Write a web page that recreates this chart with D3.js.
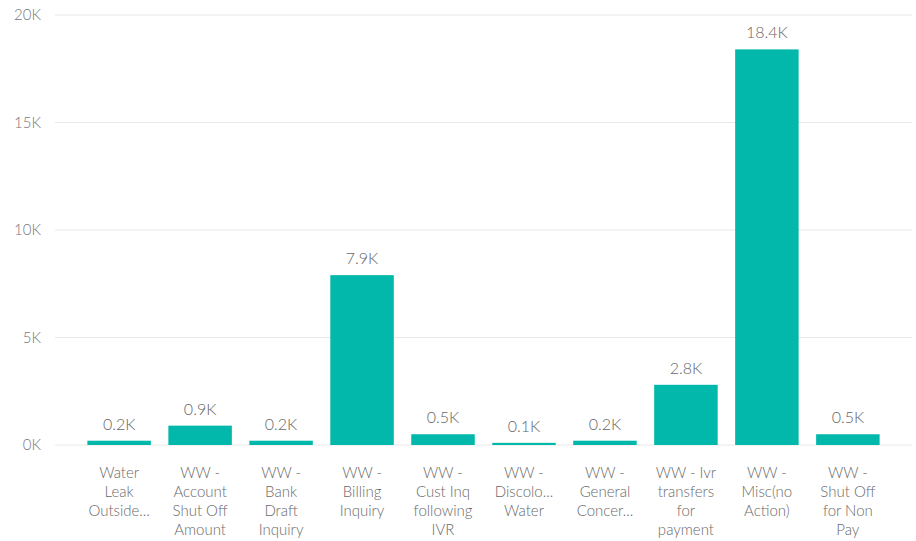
<!DOCTYPE html>
<html>
<head>
<meta charset="utf-8">
<script src="https://cdn.jsdelivr.net/npm/d3@7"></script>
<style>
  html, body { margin: 0; padding: 0; background: #ffffff; }
  svg { display: block; font-family: "Segoe UI", "Lato", "Noto Sans", sans-serif; font-weight: 300; }
</style>
</head>
<body>
<svg id="chart" width="916" height="541"></svg>
<script>
// Call counts per request type (thousands)
const categories = [
  "Water Leak Outside...",
  "WW - Account Shut Off Amount",
  "WW - Bank Draft Inquiry",
  "WW - Billing Inquiry",
  "WW - Cust Inq following IVR",
  "WW - Discolo... Water",
  "WW - General Concer...",
  "WW - Ivr transfers for payment",
  "WW - Misc(no Action)",
  "WW - Shut Off for Non Pay"
];
// Wrapped axis label lines for each category
const categoryLines = [
  ["Water", "Leak", "Outside..."],
  ["WW -", "Account", "Shut Off", "Amount"],
  ["WW -", "Bank", "Draft", "Inquiry"],
  ["WW -", "Billing", "Inquiry"],
  ["WW -", "Cust Inq", "following", "IVR"],
  ["WW -", "Discolo...", "Water"],
  ["WW -", "General", "Concer..."],
  ["WW - Ivr", "transfers", "for", "payment"],
  ["WW -", "Misc(no", "Action)"],
  ["WW -", "Shut Off", "for Non", "Pay"]
];
const values = [0.2, 0.9, 0.2, 7.9, 0.5, 0.1, 0.2, 2.8, 18.4, 0.5];
const yTicks = [0, 5, 10, 15, 20];
const yTickLabels = ["0K", "5K", "10K", "15K", "20K"];

const svg = d3.select("#chart");

const x = d3.scaleBand()
  .domain(categories)
  .range([55, 912])
  .paddingInner(0.216)
  .paddingOuter(0.4);

const y = d3.scaleLinear()
  .domain([0, 20])
  .range([445, 15]);

// Horizontal gridlines
svg.append("g")
  .selectAll("line")
  .data(yTicks)
  .join("line")
  .attr("x1", 55)
  .attr("x2", 912)
  .attr("y1", d => y(d))
  .attr("y2", d => y(d))
  .attr("stroke", "#e8e8e8")
  .attr("stroke-width", 1);

// Y axis labels
const yAxis = d3.axisLeft(y)
  .tickValues(yTicks)
  .tickFormat((d, i) => yTickLabels[i])
  .tickSize(0)
  .tickPadding(0);
const yg = svg.append("g")
  .attr("transform", "translate(41,0)")
  .call(yAxis)
  .attr("font-family", null)
  .attr("font-size", null);
yg.select(".domain").remove();
yg.selectAll("text")
  .attr("fill", "#777777")
  .style("font-size", "15px");

// Bars
svg.append("g")
  .selectAll("rect")
  .data(values)
  .join("rect")
  .attr("x", (d, i) => x(categories[i]))
  .attr("width", x.bandwidth())
  .attr("y", d => y(d))
  .attr("height", d => y(0) - y(d))
  .attr("fill", "#01B8AA");

// Value labels
svg.append("g")
  .selectAll("text")
  .data(values)
  .join("text")
  .attr("x", (d, i) => x(categories[i]) + x.bandwidth() / 2)
  .attr("y", d => y(d) - 11)
  .attr("text-anchor", "middle")
  .attr("fill", "#666666")
  .style("font-size", "16px")
  .text(d => d3.format(".1f")(d) + "K");

// Category labels
const xg = svg.append("g");
categories.forEach((c, i) => {
  const t = xg.append("text")
    .attr("x", x(c) + x.bandwidth() / 2)
    .attr("y", 478)
    .attr("text-anchor", "middle")
    .attr("fill", "#6a6a6a")
    .style("font-size", "15px");
  categoryLines[i].forEach((line, j) => {
    t.append("tspan")
      .attr("x", x(c) + x.bandwidth() / 2)
      .attr("y", 478 + j * 19)
      .text(line);
  });
});
</script>
</body>
</html>
